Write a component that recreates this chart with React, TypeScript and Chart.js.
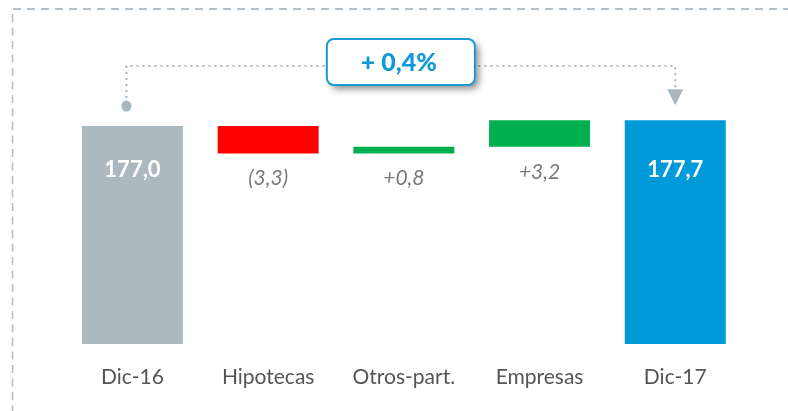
import React, { useEffect, useRef } from "react";
import { Chart, registerables } from "chart.js";

Chart.register(...registerables);

const categories = ["Dic-16", "Hipotecas", "Otros-part.", "Empresas", "Dic-17"];
const startValue = 177.0;
const deltas = [-3.3, 0.8, 3.2];
const endValue = 177.7;
const valueLabels = ["177,0", "(3,3)", "+0,8", "+3,2", "177,7"];
const changeLabel = "+ 0,4%";
const axisMin = 150.73;
const axisMax = 181;
const barColors = ["#adb9c1", "#ff0000", "#00b050", "#00b050", "#009ad8"];

function buildRanges(): [number, number][] {
  const out: [number, number][] = [[axisMin, startValue]];
  let running = startValue;
  for (const d of deltas) {
    const next = +(running + d).toFixed(2);
    out.push([Math.min(running, next), Math.max(running, next)]);
    running = next;
  }
  out.push([axisMin, endValue]);
  return out;
}

const annotPlugin = {
  id: "annot",
  beforeDraw(chart: any) {
    const ctx = chart.ctx;
    ctx.save();
    ctx.strokeStyle = "#b3c0c7";
    ctx.lineWidth = 2;
    ctx.setLineDash([8, 6]);
    ctx.beginPath();
    ctx.moveTo(13, 9);
    ctx.lineTo(chart.width, 9);
    ctx.stroke();
    ctx.lineWidth = 1.6;
    ctx.setLineDash([8, 5.5]);
    ctx.beginPath();
    ctx.moveTo(12.5, 14);
    ctx.lineTo(12.5, chart.height);
    ctx.stroke();
    ctx.restore();
  },
  afterDatasetsDraw(chart: any) {
    const ctx = chart.ctx;
    const meta = chart.getDatasetMeta(0);
    const els = meta.data;
    ctx.save();
    const totalIdx = [0, els.length - 1];
    const minTop = Math.min(...totalIdx.map((i) => Math.min(els[i].y, els[i].base)));
    els.forEach((el: any, i: number) => {
      ctx.textAlign = "center";
      ctx.textBaseline = "middle";
      if (totalIdx.includes(i)) {
        ctx.font = "bold 22px Lato";
        ctx.fillStyle = "#ffffff";
        ctx.fillText(valueLabels[i], el.x, minTop + 50);
      } else {
        const bottom = Math.max(el.y, el.base);
        ctx.font = "italic 21px Lato";
        ctx.fillStyle = "#7a7a7a";
        ctx.fillText(valueLabels[i], el.x, bottom + 25);
      }
    });

    const first = els[0];
    const last = els[els.length - 1];
    const xL = first.x - 6;
    const xR = last.x;
    const topL = Math.min(first.y, first.base);
    const topR = Math.min(last.y, last.base);
    const lineY = 66;
    ctx.strokeStyle = "#a9b7c0";
    ctx.fillStyle = "#a9b7c0";
    ctx.lineWidth = 2;
    ctx.setLineDash([2, 4]);
    ctx.beginPath();
    ctx.moveTo(xL, topL - 22);
    ctx.lineTo(xL, lineY);
    ctx.lineTo(xR, lineY);
    ctx.lineTo(xR, topR - 30);
    ctx.stroke();
    ctx.setLineDash([]);
    ctx.beginPath();
    ctx.ellipse(xL, topL - 20, 5, 5.5, 0, 0, Math.PI * 2);
    ctx.fill();
    ctx.beginPath();
    ctx.moveTo(xR - 8, topR - 31);
    ctx.lineTo(xR + 8, topR - 31);
    ctx.lineTo(xR, topR - 15);
    ctx.closePath();
    ctx.fill();

    const cx = (xL + xR) / 2;
    const bw = 148;
    const bh = 46;
    const bx = cx - bw / 2;
    const by = 39;
    ctx.save();
    ctx.shadowColor = "rgba(0,0,0,0.45)";
    ctx.shadowBlur = 7;
    ctx.shadowOffsetX = 4;
    ctx.shadowOffsetY = 4;
    ctx.fillStyle = "#ffffff";
    ctx.beginPath();
    ctx.roundRect(bx, by, bw, bh, 7);
    ctx.fill();
    ctx.restore();
    ctx.strokeStyle = "#1a9ad6";
    ctx.lineWidth = 2;
    ctx.beginPath();
    ctx.roundRect(bx, by, bw, bh, 7);
    ctx.stroke();
    ctx.fillStyle = "#0e9ad8";
    ctx.font = "900 25px Lato";
    ctx.textAlign = "center";
    ctx.textBaseline = "middle";
    ctx.fillText(changeLabel, cx - 2, by + bh / 2 + 1);
    ctx.restore();
  },
};

export default function App() {
  const ref = useRef<HTMLCanvasElement>(null);
  useEffect(() => {
    if (!ref.current) return;
    const chart = new Chart(ref.current, {
      type: "bar",
      data: {
        labels: categories,
        datasets: [
          {
            data: buildRanges() as any,
            backgroundColor: barColors,
            borderWidth: 0,
            categoryPercentage: 1,
            barPercentage: 0.744,
          },
        ],
      },
      options: {
        responsive: false,
        animation: false,
        devicePixelRatio: 1,
        layout: { padding: { left: 64.6, right: 44.9, top: 92.8, bottom: 0 } },
        plugins: { legend: { display: false }, tooltip: { enabled: false } },
        scales: {
          x: {
            grid: { display: false },
            border: { display: false },
            ticks: { color: "#555555", font: { family: "Lato", size: 21 }, padding: 13 },
            afterFit: (s: any) => {
              s.height = 67;
            },
          },
          y: { display: false, min: axisMin, max: axisMax },
        },
      },
      plugins: [annotPlugin],
    });
    return () => chart.destroy();
  }, []);
  return (
    <div style={{ position: "absolute", left: 0, top: 0, width: 788, height: 411, background: "#fff" }}>
      <canvas ref={ref} width={788} height={411} />
    </div>
  );
}
